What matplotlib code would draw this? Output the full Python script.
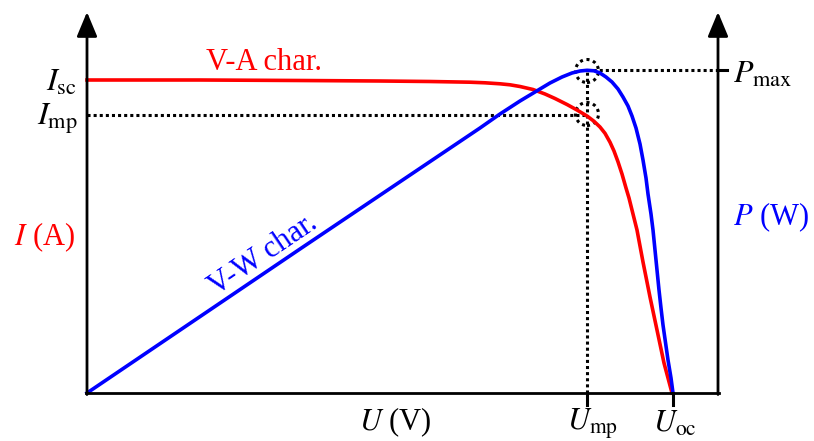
import matplotlib
matplotlib.use("Agg")
import matplotlib.pyplot as plt
from matplotlib.patches import Circle

plt.rcParams['font.family'] = ['Liberation Serif', 'DejaVu Serif']
plt.rcParams['mathtext.fontset'] = 'stix'

# curve readings (U offset, value)
u_iv = [0, 113, 213, 293, 343, 383, 398, 413, 423, 433, 446, 458, 468, 480, 490, 500, 507, 513,
        518, 523, 527, 531, 535, 539, 542, 546, 550, 553, 556, 563, 570, 577, 585]
i_iv = [313, 313, 312.5, 312, 311.5, 310.8, 310.2, 309.2, 308.2, 306.5, 303.5, 299, 294.5, 288.5,
        283, 277, 271.7, 266, 259.7, 250.8, 242, 231.2, 219, 205, 195, 179, 163, 147, 131, 96,
        63, 30, 0]

u_pv = [0, 213, 393, 413, 433, 448, 463, 475, 485, 493, 500, 507, 513, 519, 525, 531, 536, 541,
        545, 549, 553, 556, 559, 561, 564, 566, 568, 570, 572, 574, 576, 579, 581, 584, 586]
p_pv = [0, 144, 265, 279, 292, 301, 310, 316, 320, 322, 322.7, 322.2, 320, 316, 311, 304, 296, 287,
        277, 265, 249, 233, 215, 199, 179, 163, 143, 123, 103, 85, 68, 47, 33, 15, 0]

u_mp, u_oc = 500, 586
i_sc, i_mp = 313, 278
p_max = 323
x_end, y_top = 631, 381

fig = plt.figure(figsize=(8.14, 4.41), dpi=100)
ax = fig.add_axes([0, 0, 1, 1])
ax.set_xlim(-87, 727)
ax.set_ylim(-48, 393)
ax.axis('off')

# dotted guide lines
dot = dict(color='black', lw=2.2, linestyle=(0, (1, 1)), dash_capstyle='butt')
ax.plot([0, u_mp], [i_mp, i_mp], **dot)
ax.plot([u_mp, u_mp], [0, p_max], **dot)
ax.plot([u_mp, x_end], [p_max, p_max], **dot)
for yc in (p_max - 1, i_mp + 1):
    ax.add_patch(Circle((u_mp, yc), 11.5, fill=False, ec='black', lw=2.2,
                        linestyle=(0, (1, 1.2))))

# curves
ax.plot(u_iv, i_iv, color='#ff0000', lw=2.6, solid_joinstyle='round')
ax.plot(u_pv, p_pv, color='#0000ff', lw=2.6, solid_joinstyle='round')

# axes with arrows
arr = dict(arrowstyle='-|>,head_length=0.6,head_width=0.25', lw=2, color='black',
           mutation_scale=25, shrinkA=0, shrinkB=0)
ax.annotate('', xy=(0, y_top), xytext=(0, -1.5), arrowprops=arr)
ax.annotate('', xy=(x_end, y_top), xytext=(x_end, -1.5), arrowprops=arr)
ax.plot([-1, x_end + 1], [0, 0], color='black', lw=2, solid_capstyle='projecting')
for ux in (u_mp, u_oc):
    ax.plot([ux, ux], [0, -12], color='black', lw=2.2)
ax.plot([x_end, x_end + 9], [p_max, p_max], color='black', lw=2.2)

# labels
ax.text(177, 331, 'V-A char.', color='#ff0000', fontsize=22, ha='center', va='center')
ax.text(176, 138, 'V-W char.', color='#0000ff', fontsize=22, ha='center', va='center',
        rotation=34, rotation_mode='anchor')
ax.text(-10, i_sc - 3, r'$I_{\mathrm{sc}}$', fontsize=23, ha='right', va='center')
ax.text(-9, i_mp - 4, r'$I_{\mathrm{mp}}$', fontsize=23, ha='right', va='center')
ax.text(-43, 156, r'$I$ (A)', color='#ff0000', fontsize=22, ha='center', va='center')
ax.text(684, 176, r'$P$ (W)', color='#0000ff', fontsize=22, ha='center', va='center')
ax.text(646, p_max - 5, r'$P_{\mathrm{max}}$', fontsize=23, ha='left', va='center')
ax.text(308, -29, r'$U$ (V)', fontsize=22, ha='center', va='center')
ax.text(u_mp + 5, -31, r'$U_{\mathrm{mp}}$', fontsize=22, ha='center', va='center')
ax.text(u_oc + 2, -31, r'$U_{\mathrm{oc}}$', fontsize=22, ha='center', va='center')

fig.savefig('out.png', dpi=100)
